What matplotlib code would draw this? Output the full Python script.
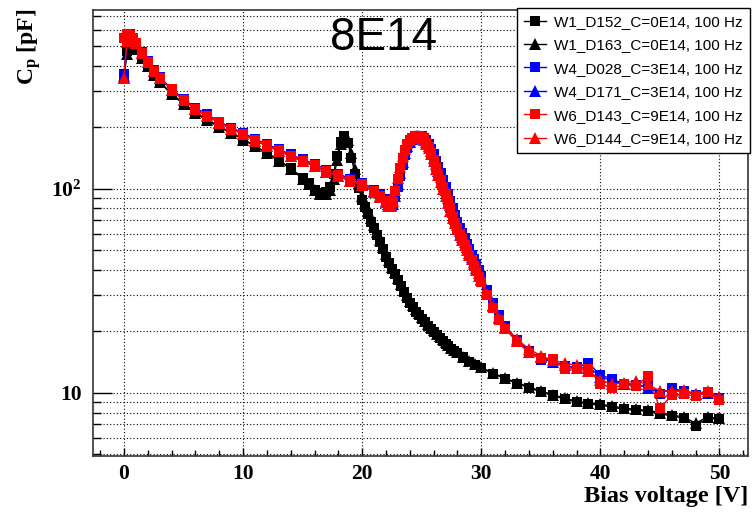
import matplotlib
matplotlib.use("Agg")
import matplotlib.pyplot as plt
from matplotlib.ticker import LogLocator, NullFormatter, MultipleLocator

# bias voltage grids [V]
V_w1 = [0, 0.25, 0.5, 0.75, 1, 1.5, 2, 2.5, 3, 4, 5, 6, 7, 8, 9, 10, 11, 12, 13, 14, 15,
        15.5, 16, 16.5, 17, 17.3, 17.6, 17.9, 18.2, 18.5, 18.8, 19.1, 19.4, 19.7, 20,
        20.25, 20.5, 20.75, 21, 21.25, 21.5, 21.75, 22, 22.25, 22.5, 22.75, 23,
        23.25, 23.5, 23.75, 24, 24.25, 24.5, 24.75, 25, 25.25, 25.5, 25.75, 26,
        26.25, 26.5, 26.75, 27, 27.25, 27.5, 27.75, 28, 28.5, 29, 29.5, 30,
        31, 32, 33, 34, 35, 36, 37, 38, 39, 40, 41, 42, 43, 44, 45, 46, 47, 48, 49, 50]
V_w46 = [0, 0.25, 0.5, 0.75, 1, 1.5, 2, 2.5, 3, 4, 5, 6, 7, 8, 9, 10, 11, 12, 13, 14, 15,
         16, 17, 18, 19, 20, 21, 21.5, 22,
         22.2, 22.4, 22.6, 22.8, 23.0, 23.2, 23.4, 23.6, 23.8, 24.0, 24.2, 24.4, 24.6, 24.8,
         25.0, 25.2, 25.4, 25.6, 25.8, 26.0, 26.2, 26.4, 26.6, 26.8, 27.0, 27.2, 27.4, 27.6,
         27.8, 28.0, 28.2, 28.4, 28.6, 28.8, 29.0, 29.2, 29.4, 29.6, 29.8, 30.0,
         30.5, 31, 31.5, 32, 33, 34, 35, 36, 37, 38, 39, 40, 41, 42, 43, 44, 45, 46, 47, 48, 49, 50]

# capacitance [pF]
C_W1_D152 = [365, 470, 545, 520, 490, 440, 400, 365, 335, 292, 262, 236, 218, 202, 188, 175,
             162, 150, 138, 126, 113, 106, 99, 95, 96, 102, 118, 145, 170, 181, 168, 142, 118,
             101, 88,
             81, 75, 69, 64, 59, 54.5, 50.5, 46.5, 43.3, 40.5, 38, 35.5, 33.2, 31, 29.2, 27.5,
             26.2, 25, 24, 23, 22.1, 21.2, 20.5, 19.8, 19.1, 18.5, 17.9, 17.4, 16.9, 16.4, 16.0, 15.6,
             14.9, 14.2, 13.7, 13.2,
             12.4, 11.7, 11.1, 10.6, 10.1, 9.7, 9.3, 9.0, 8.8, 8.7, 8.5, 8.3, 8.2, 8.1, 7.9,
             7.7, 7.5, 6.9, 7.5, 7.4]
C_W1_D163 = [350, 455, 530, 515, 485, 436, 398, 362, 332, 290, 260, 234, 216, 200, 187, 174,
             161, 149, 137, 125, 112, 105, 98, 94, 94, 99, 112, 138, 165, 180, 174, 150, 125,
             106, 92,
             85, 78, 71.5, 66, 61, 56, 52, 48, 44.5, 41.5, 39, 36.3, 34, 31.8, 30, 28.2,
             26.8, 25.6, 24.5, 23.5, 22.5, 21.6, 20.9, 20.2, 19.5, 18.9, 18.3, 17.7, 17.2, 16.6, 16.2, 15.8,
             15.0, 14.3, 13.8, 13.3,
             12.5, 11.8, 11.2, 10.7, 10.2, 9.8, 9.4, 9.1, 8.9, 8.8, 8.6, 8.4, 8.3, 8.2, 8.0,
             7.8, 7.6, 7.1, 7.6, 7.5]
C_W4_D028 = [360, 540, 570, 548, 518, 465, 421, 381, 351, 309, 275, 249, 231, 213, 199, 188,
             175, 165, 156, 147, 139, 132, 124, 118, 112, 107, 99, 94, 89,
             86, 84, 85, 91, 102, 115, 131, 146, 158, 168, 175, 179, 182, 182,
             181, 178, 173, 166, 157, 147, 137, 127, 119, 110, 102, 94, 87, 80,
             74, 69, 64.5, 60.5, 57, 53.5, 50.5, 47.5, 45, 42.5, 40, 37.5,
             32, 27.5, 24, 21.3,
             18.2, 16.0, 14.5, 14.3, 13.5, 13.3, 14.0, 12.2, 11.7, 11.0, 10.9, 10.8, 9.9, 10.5,
             10.2, 9.8, 9.9, 9.4]
C_W4_D171 = [355, 520, 560, 545, 512, 460, 417, 377, 347, 305, 271, 245, 227, 210, 196, 185,
             172, 162, 153, 144, 136, 129, 121, 115, 109, 104, 97, 92, 87,
             84, 83, 84, 92, 105, 119, 135, 150, 161, 170, 176, 180, 182, 181,
             180, 176, 170, 162, 153, 142, 132, 122, 114, 106, 98, 90, 83, 77,
             71, 66.5, 62, 58, 55, 51.5, 48.5, 46, 43.5, 41, 38.5, 36,
             31, 26.8, 23.5, 20.9,
             18.0, 15.9, 14.9, 14.2, 13.6, 13.2, 13.4, 12.0, 11.4, 11.1, 11.0, 10.6, 10.1, 10.3,
             10.1, 9.9, 10.0, 9.5]
C_W6_D143 = [545, 575, 568, 545, 515, 462, 418, 378, 348, 306, 272, 246, 228, 211, 197, 186,
             173, 163, 154, 145, 137, 130, 122, 116, 110, 105, 97, 92, 87,
             83, 82, 86, 97, 111, 126, 142, 155, 166, 174, 178, 181, 182, 181,
             179, 175, 168, 160, 149, 138, 127, 118, 110, 102, 94, 87, 80, 73,
             68, 64, 60, 56.5, 53, 50, 47, 44.5, 42, 39.5, 37, 35,
             30, 26, 22.8, 20.5,
             17.8, 15.7, 14.8, 14.6, 13.1, 13.1, 13.1, 11.1, 10.5, 11.0, 10.8, 12.1, 8.4, 9.7,
             9.9, 9.6, 10.1, 9.2]
C_W6_D144 = [350, 530, 565, 545, 514, 461, 417, 377, 347, 305, 271, 245, 227, 210, 196, 185,
             172, 162, 153, 144, 136, 129, 121, 115, 109, 104, 96, 91, 86,
             82, 82, 87, 99, 113, 128, 144, 157, 167, 174, 178, 181, 181, 180,
             178, 173, 166, 158, 147, 136, 125, 116, 108, 100, 92, 85, 78, 72,
             67.5, 63.5, 59.5, 56, 53, 50, 47.5, 45, 42.5, 40, 37.5, 35.5,
             30.5, 26.5, 23.3, 20.8,
             18.3, 16.4, 15.2, 14.4, 14.0, 13.6, 12.8, 11.6, 11.0, 11.2, 11.4, 11.0, 10.2, 10.2,
             10.3, 9.9, 10.2, 9.5]

labels = ["W1_D152_C=0E14, 100 Hz", "W1_D163_C=0E14, 100 Hz",
          "W4_D028_C=3E14, 100 Hz", "W4_D171_C=3E14, 100 Hz",
          "W6_D143_C=9E14, 100 Hz", "W6_D144_C=9E14, 100 Hz"]

plt.rcParams['mathtext.fontset'] = 'custom'
plt.rcParams['mathtext.rm'] = 'Liberation Serif:bold'
plt.rcParams['mathtext.bf'] = 'Liberation Serif:bold'
plt.rcParams['mathtext.it'] = 'Liberation Serif:bold'

fig = plt.figure(figsize=(7.52, 5.14), dpi=100)
ax = fig.add_axes([93 / 752, 58 / 514, 655 / 752, 446 / 514])

series = [
    (V_w1, C_W1_D152, "black", "s"),
    (V_w1, C_W1_D163, "black", "^"),
    (V_w46, C_W4_D028, "blue", "s"),
    (V_w46, C_W4_D171, "blue", "^"),
    (V_w46, C_W6_D143, "red", "s"),
    (V_w46, C_W6_D144, "red", "^"),
]
for (v, c, col, m), lab in zip(series, labels):
    ax.plot(v, c, color=col, marker=m, ms=7.5 if m == "s" else 8, mew=0, lw=1, label=lab)

ax.set_yscale("log")
ax.set_xlim(-2.6, 52.4)
ax.set_ylim(4.9, 750)

ax.xaxis.set_major_locator(MultipleLocator(10))
ax.xaxis.set_minor_locator(MultipleLocator(2))
ax.yaxis.set_major_locator(LogLocator(base=10, subs=(1.0,)))
ax.yaxis.set_minor_locator(LogLocator(base=10, subs=range(2, 10)))
ax.yaxis.set_minor_formatter(NullFormatter())
ax.set_yticks([10, 100])
ax.set_yticklabels(["10", r"$10^{2}$"])

ax.grid(which="both", axis="y", ls=(0, (1, 2)), color="k", lw=0.8)
ax.grid(which="major", axis="x", ls=(0, (1, 2)), color="k", lw=0.8)

ax.tick_params(which="both", direction="in", top=False, right=False)
ax.tick_params(axis="y", which="major", length=14, width=1)
ax.tick_params(axis="y", which="minor", length=6, width=1)
ax.tick_params(axis="x", which="major", length=6, width=1)
ax.tick_params(axis="x", which="minor", length=4, width=1)
for lab in ax.get_xticklabels() + ax.get_yticklabels():
    lab.set_fontfamily("Liberation Serif")
    lab.set_fontweight("bold")
    lab.set_fontsize(15.5)
ax.tick_params(axis="x", pad=6)
ax.tick_params(axis="y", pad=8)
for s in ax.spines.values():
    s.set_linewidth(1.2)
    s.set_color("#333333")

ax.set_xlabel("Bias voltage [V]", fontfamily="Liberation Serif", fontweight="bold",
              fontsize=17.5, loc="right", labelpad=1)
fig.text(29 / 752, 1 - 9 / 514, r"$C_{p}$ [pF]", fontfamily="Liberation Serif",
         fontweight="bold", fontsize=17, rotation=90, ha="center", va="top")

fig.text(384 / 752, 1 - 38 / 514, "8E14", fontfamily="Liberation Sans", fontsize=33,
         ha="center", va="center")

leg = fig.legend(loc="upper right", bbox_to_anchor=(750 / 752, 1 - 8 / 514),
                 prop={"family": "Liberation Sans", "size": 11}, frameon=True,
                 fancybox=False, framealpha=1, edgecolor="black", borderpad=0.45,
                 handlelength=1.45, handletextpad=0.55, labelspacing=0.62, borderaxespad=0)
leg.get_frame().set_linewidth(1.0)

fig.savefig("out.png", dpi=100)
